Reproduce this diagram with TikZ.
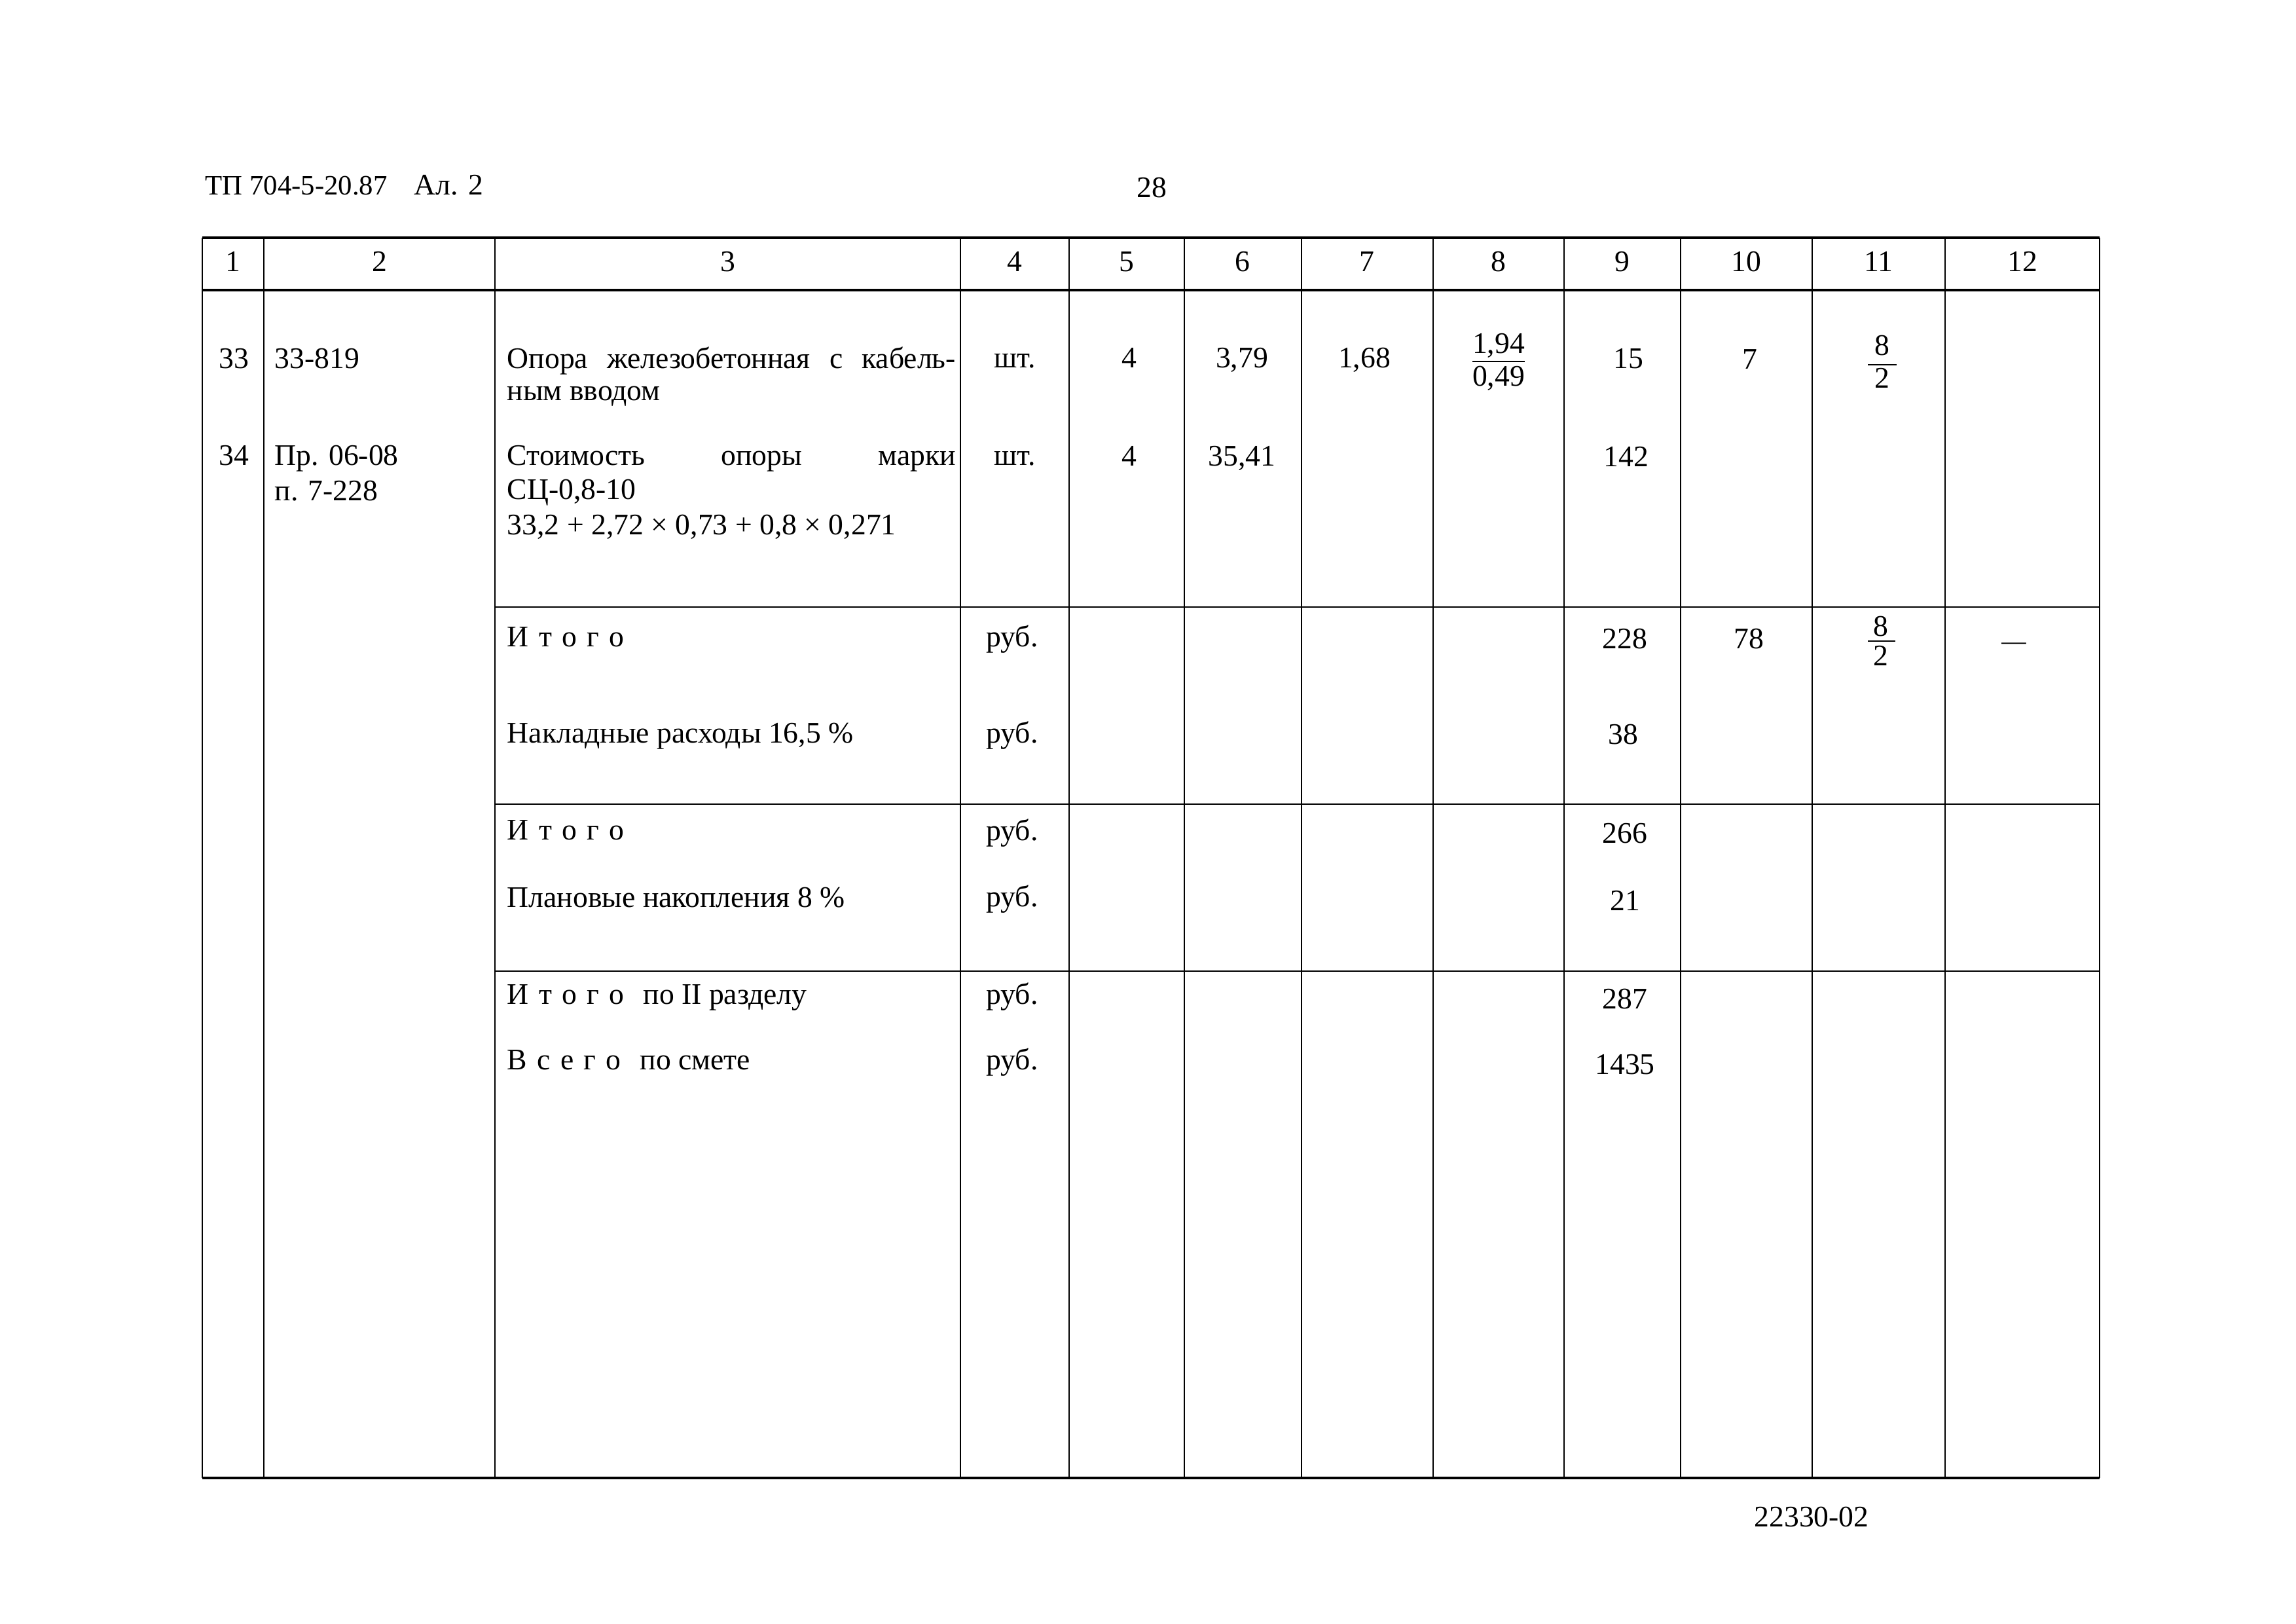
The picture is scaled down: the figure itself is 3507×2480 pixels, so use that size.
\documentclass[tikz,border=0pt]{standalone}
\usepackage{fontspec}
\setmainfont{Liberation Serif}
\newcommand{\spread}[1]{\makebox[58mm][s]{#1}}
\newcommand{\lsp}{\hspace{3.7pt}}

\begin{document}
\begin{tikzpicture}[x=0.0846667mm, y=-0.0846667mm,
  every node/.style={inner sep=0pt, font=\fontsize{11}{13}\selectfont},
  lft/.style={anchor=base west},
  mid/.style={anchor=base},
  frame/.style={line width=0.8pt},
  rule/.style={line width=0.6pt},
  grid/.style={line width=0.4pt},
  bar/.style={line width=0.6pt}]
\path[use as bounding box, fill=white](0,0) rectangle (3507,2480);

% page head
\node[lft, font=\fontsize{10.3}{12}\selectfont] (title) at (313,298) {ТП 704-5-20.87};
\node[lft] (album) at (632,298) {Ал. 2};
\node[mid] (page) at (1759,302) {28};
\node[mid] (sheet) at (2767,2331) {22330-02};

% table frame and rules
\draw[frame](309,363)--(3207,363);
\draw[frame](309,443)--(3207,443);
\draw[frame](309,2257)--(3207,2257);
\foreach \cx in {309,403,756,1467,1633,1809,1988,2189,2389,2567,2768,2971,3207}
  \draw[grid](\cx,363)--(\cx,2257);
\foreach \ry in {927,1228,1483}
  \draw[rule](756,\ry)--(3207,\ry);

% column numbers
\foreach \n/\cx in {1/356,2/580,3/1112,4/1550,5/1721,6/1898,7/2088,8/2289,9/2478,10/2667,11/2869,12/3089}
  \node[mid] (h\n) at (\cx,415) {\n};

% item 33
\node[mid] (n33) at (357,563) {33};
\node[lft] (code33) at (419,563) {33-819};
\node[lft] (name33a) at (774,563) {\spread{Опора железобетонная с кабель-}};
\node[lft] (name33b) at (774,612) {ным вводом};
\node[mid] (unit33) at (1550,562) {шт.};
\node[mid] (qty33) at (1725,562) {4};
\node[mid] (price33) at (1897,562) {3,79};
\node[mid] (wage33) at (2084,562) {1,68};
\node[mid] (machA33) at (2289,540) {1,94};
\draw[bar](2249,552)--(2329,552);
\node[mid] (machB33) at (2289,590) {0,49};
\node[mid] (sum33) at (2487,563) {15};
\node[mid] (sumw33) at (2673,564) {7};
\node[mid] (mA33) at (2875,543) {8};
\draw[bar](2853,557)--(2897,557);
\node[mid] (mB33) at (2875,593) {2};

% item 34
\node[mid] (n34) at (357,711) {34};
\node[lft] (code34a) at (419,711) {Пр. 06-08};
\node[lft] (code34b) at (419,765) {п. 7-228};
\node[lft] (name34a) at (774,711) {\spread{Стоимость опоры марки}};
\node[lft] (name34b) at (774,763) {СЦ-0,8-10};
\node[lft] (name34c) at (774,817) {33,2 + 2,72 × 0,73 + 0,8 × 0,271};
\node[mid] (unit34) at (1550,711) {шт.};
\node[mid] (qty34) at (1725,712) {4};
\node[mid] (price34) at (1897,712) {35,41};
\node[mid] (sum34) at (2484,713) {142};

% totals
\node[lft] (tot1) at (774,988) {И\lsp т\lsp о\lsp г\lsp о};
\node[mid] (tot1u) at (1546,988) {руб.};
\node[mid] (tot1s) at (2482,991) {228};
\node[mid] (tot1w) at (2671,991) {78};
\node[mid] (tot1a) at (2873,972) {8};
\draw[bar](2853,979)--(2895,979);
\node[mid] (tot1b) at (2873,1017) {2};
\node[mid, font=\fontsize{9}{11}\selectfont] (tot1d) at (3076,992) {—};

\node[lft] (over) at (774,1135) {Накладные расходы 16,5 \%};
\node[mid] (overu) at (1546,1135) {руб.};
\node[mid] (overs) at (2479,1137) {38};

\node[lft] (tot2) at (774,1283) {И\lsp т\lsp о\lsp г\lsp о};
\node[mid] (tot2u) at (1546,1284) {руб.};
\node[mid] (tot2s) at (2482,1288) {266};

\node[lft] (plan) at (774,1385) {Плановые накопления 8 \%};
\node[mid] (planu) at (1546,1384) {руб.};
\node[mid] (plans) at (2482,1390) {21};

\node[lft] (tot3) at (774,1533) {И\lsp т\lsp о\lsp г\lsp о\hspace{7pt}по II разделу};
\node[mid] (tot3u) at (1546,1533) {руб.};
\node[mid] (tot3s) at (2482,1540) {287};

\node[lft] (all) at (774,1633) {В\lsp с\lsp е\lsp г\lsp о\hspace{7pt}по смете};
\node[mid] (allu) at (1546,1633) {руб.};
\node[mid] (alls) at (2482,1640) {1435};

\end{tikzpicture}
\end{document}
